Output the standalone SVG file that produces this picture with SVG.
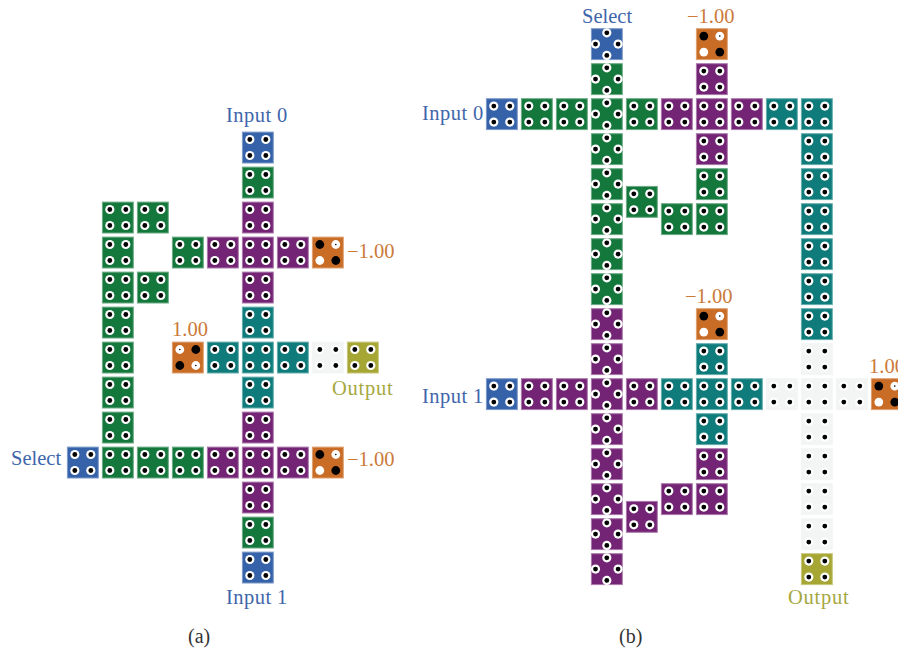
<svg xmlns="http://www.w3.org/2000/svg" width="898" height="654" viewBox="0 0 898 654">
<style>
text{font-family:"Liberation Serif","Times New Roman",serif;font-size:20.5px}
.tb{fill:#3f66ab}.to{fill:#cb7a3a}.tl{fill:#a6a83f;letter-spacing:.75px}.ls{letter-spacing:.45px}.tk{fill:#333;font-size:20px}
.b{fill:#3562a8;stroke:#7d9ac8}.g{fill:#14783c;stroke:#6cab85}.p{fill:#742474;stroke:#ab78ab}.t{fill:#0f7b7b;stroke:#64aeae}.o{fill:#c96c25;stroke:#deA070}.y{fill:#a5a634;stroke:#c6c77a}.w{fill:#f3f5f5;stroke:#f3f5f5}
.h{fill:#fff}.k{fill:#000}
</style>
<defs>
<rect id="r" x=".4" y=".4" width="30.9" height="30.9"/>
<g id="s"><circle class="h" r="4.6"/><circle class="k" r="2.4"/></g>
<g id="q"><use href="#s" x="7.8" y="7.8"/><use href="#s" x="23.8" y="7.8"/><use href="#s" x="7.8" y="23.8"/><use href="#s" x="23.8" y="23.8"/></g>
<g id="d"><use href="#s" x="15.8" y="4.5"/><use href="#s" x="4.5" y="15.8"/><use href="#s" x="27.1" y="15.8"/><use href="#s" x="15.8" y="27.1"/></g>
<g id="m"><circle class="k" cx="7.8" cy="7.8" r="4.4"/><circle class="h" cx="23.8" cy="7.8" r="4.4"/><circle class="k" cx="23.8" cy="7.8" r=".8"/><circle class="h" cx="7.8" cy="23.8" r="4.4"/><circle class="k" cx="23.8" cy="23.8" r="4.4"/></g>
<g id="n"><circle class="h" cx="7.8" cy="7.8" r="4.4"/><circle class="k" cx="7.8" cy="7.8" r=".8"/><circle class="k" cx="23.8" cy="7.8" r="4.4"/><circle class="k" cx="7.8" cy="23.8" r="4.4"/><circle class="h" cx="23.8" cy="23.8" r="4.4"/><circle class="k" cx="23.8" cy="23.8" r=".8"/></g>
</defs>
<g id="panel-a">
<g id="a-input0" transform="translate(242,131.7)"><use href="#r" class="b"/><use href="#q"/></g>
<g id="a1" transform="translate(242,166.7)"><use href="#r" class="g"/><use href="#q"/></g>
<g id="a2" transform="translate(242,201.7)"><use href="#r" class="p"/><use href="#q"/></g>
<g id="a3" transform="translate(242,236.7)"><use href="#r" class="p"/><use href="#q"/></g>
<g id="a4" transform="translate(242,271.7)"><use href="#r" class="p"/><use href="#q"/></g>
<g id="a5" transform="translate(242,306.7)"><use href="#r" class="t"/><use href="#q"/></g>
<g id="a6" transform="translate(242,341.7)"><use href="#r" class="t"/><use href="#q"/></g>
<g id="a7" transform="translate(242,376.7)"><use href="#r" class="t"/><use href="#q"/></g>
<g id="a8" transform="translate(242,411.7)"><use href="#r" class="p"/><use href="#q"/></g>
<g id="a9" transform="translate(242,446.7)"><use href="#r" class="p"/><use href="#q"/></g>
<g id="a10" transform="translate(242,481.7)"><use href="#r" class="p"/><use href="#q"/></g>
<g id="a11" transform="translate(242,516.7)"><use href="#r" class="g"/><use href="#q"/></g>
<g id="a-input1" transform="translate(242,551.7)"><use href="#r" class="b"/><use href="#q"/></g>
<g id="a12" transform="translate(102,201.7)"><use href="#r" class="g"/><use href="#q"/></g>
<g id="a13" transform="translate(102,236.7)"><use href="#r" class="g"/><use href="#q"/></g>
<g id="a14" transform="translate(102,271.7)"><use href="#r" class="g"/><use href="#q"/></g>
<g id="a15" transform="translate(102,306.7)"><use href="#r" class="g"/><use href="#q"/></g>
<g id="a16" transform="translate(102,341.7)"><use href="#r" class="g"/><use href="#q"/></g>
<g id="a17" transform="translate(102,376.7)"><use href="#r" class="g"/><use href="#q"/></g>
<g id="a18" transform="translate(102,411.7)"><use href="#r" class="g"/><use href="#q"/></g>
<g id="a19" transform="translate(102,446.7)"><use href="#r" class="g"/><use href="#q"/></g>
<g id="a20" transform="translate(137,201.7)"><use href="#r" class="g"/><use href="#q"/></g>
<g id="a21" transform="translate(137,271.7)"><use href="#r" class="g"/><use href="#q"/></g>
<g id="a22" transform="translate(137,446.7)"><use href="#r" class="g"/><use href="#q"/></g>
<g id="a-select" transform="translate(67,446.7)"><use href="#r" class="b"/><use href="#q"/></g>
<g id="a23" transform="translate(172,236.7)"><use href="#r" class="g"/><use href="#q"/></g>
<g id="a24" transform="translate(172,446.7)"><use href="#r" class="g"/><use href="#q"/></g>
<g id="a-pos" transform="translate(172,341.7)"><use href="#r" class="o"/><use href="#n"/></g>
<g id="a25" transform="translate(207,236.7)"><use href="#r" class="p"/><use href="#q"/></g>
<g id="a26" transform="translate(207,341.7)"><use href="#r" class="t"/><use href="#q"/></g>
<g id="a27" transform="translate(207,446.7)"><use href="#r" class="p"/><use href="#q"/></g>
<g id="a28" transform="translate(277,236.7)"><use href="#r" class="p"/><use href="#q"/></g>
<g id="a29" transform="translate(277,341.7)"><use href="#r" class="t"/><use href="#q"/></g>
<g id="a30" transform="translate(277,446.7)"><use href="#r" class="p"/><use href="#q"/></g>
<g id="a-neg1" transform="translate(312,236.7)"><use href="#r" class="o"/><use href="#m"/></g>
<g id="a31" transform="translate(312,341.7)"><use href="#r" class="w"/><use href="#q"/></g>
<g id="a-neg2" transform="translate(312,446.7)"><use href="#r" class="o"/><use href="#m"/></g>
<g id="a-output" transform="translate(347,341.7)"><use href="#r" class="y"/><use href="#q"/></g>
<text class="tb ls" x="226" y="122">Input 0</text>
<text class="tb ls" x="226" y="604">Input 1</text>
<text class="tb" x="11" y="465">Select</text>
<text class="to" x="347" y="258">−1.00</text>
<text class="to" x="347" y="466">−1.00</text>
<text class="to" x="172" y="336">1.00</text>
<text class="tl" x="332" y="395">Output</text>
<text class="tk" x="188" y="643">(a)</text>
</g>
<g id="panel-b">
<g id="b-select" transform="translate(591,28.3)"><use href="#r" class="b"/><use href="#d"/></g>
<g id="b1" transform="translate(591,63.3)"><use href="#r" class="g"/><use href="#d"/></g>
<g id="b2" transform="translate(591,98.3)"><use href="#r" class="g"/><use href="#d"/></g>
<g id="b3" transform="translate(591,133.3)"><use href="#r" class="g"/><use href="#d"/></g>
<g id="b4" transform="translate(591,168.3)"><use href="#r" class="g"/><use href="#d"/></g>
<g id="b5" transform="translate(591,203.3)"><use href="#r" class="g"/><use href="#d"/></g>
<g id="b6" transform="translate(591,238.3)"><use href="#r" class="g"/><use href="#d"/></g>
<g id="b7" transform="translate(591,273.3)"><use href="#r" class="g"/><use href="#d"/></g>
<g id="b8" transform="translate(591,308.3)"><use href="#r" class="p"/><use href="#d"/></g>
<g id="b9" transform="translate(591,343.3)"><use href="#r" class="p"/><use href="#d"/></g>
<g id="b10" transform="translate(591,378.3)"><use href="#r" class="p"/><use href="#d"/></g>
<g id="b11" transform="translate(591,413.3)"><use href="#r" class="p"/><use href="#d"/></g>
<g id="b12" transform="translate(591,448.3)"><use href="#r" class="p"/><use href="#d"/></g>
<g id="b13" transform="translate(591,483.3)"><use href="#r" class="p"/><use href="#d"/></g>
<g id="b14" transform="translate(591,518.3)"><use href="#r" class="p"/><use href="#d"/></g>
<g id="b15" transform="translate(591,553.3)"><use href="#r" class="p"/><use href="#d"/></g>
<g id="b-input0" transform="translate(486,98.3)"><use href="#r" class="b"/><use href="#q"/></g>
<g id="b16" transform="translate(521,98.3)"><use href="#r" class="g"/><use href="#q"/></g>
<g id="b17" transform="translate(556,98.3)"><use href="#r" class="g"/><use href="#q"/></g>
<g id="b18" transform="translate(626,98.3)"><use href="#r" class="g"/><use href="#q"/></g>
<g id="b19" transform="translate(661,98.3)"><use href="#r" class="p"/><use href="#q"/></g>
<g id="b20" transform="translate(696,98.3)"><use href="#r" class="p"/><use href="#q"/></g>
<g id="b21" transform="translate(731,98.3)"><use href="#r" class="p"/><use href="#q"/></g>
<g id="b22" transform="translate(766,98.3)"><use href="#r" class="t"/><use href="#q"/></g>
<g id="b23" transform="translate(801,98.3)"><use href="#r" class="t"/><use href="#q"/></g>
<g id="b-neg1" transform="translate(696,28.3)"><use href="#r" class="o"/><use href="#m"/></g>
<g id="b24" transform="translate(696,63.3)"><use href="#r" class="p"/><use href="#q"/></g>
<g id="b25" transform="translate(696,133.3)"><use href="#r" class="p"/><use href="#q"/></g>
<g id="b26" transform="translate(696,168.3)"><use href="#r" class="g"/><use href="#q"/></g>
<g id="b27" transform="translate(696,203.3)"><use href="#r" class="g"/><use href="#q"/></g>
<g id="b28" transform="translate(661,203.3)"><use href="#r" class="g"/><use href="#q"/></g>
<g id="b29" transform="translate(626,186)"><use href="#r" class="g"/><use href="#q"/></g>
<g id="b30" transform="translate(801,133.3)"><use href="#r" class="t"/><use href="#q"/></g>
<g id="b31" transform="translate(801,168.3)"><use href="#r" class="t"/><use href="#q"/></g>
<g id="b32" transform="translate(801,203.3)"><use href="#r" class="t"/><use href="#q"/></g>
<g id="b33" transform="translate(801,238.3)"><use href="#r" class="t"/><use href="#q"/></g>
<g id="b34" transform="translate(801,273.3)"><use href="#r" class="t"/><use href="#q"/></g>
<g id="b35" transform="translate(801,308.3)"><use href="#r" class="t"/><use href="#q"/></g>
<g id="b36" transform="translate(801,343.3)"><use href="#r" class="w"/><use href="#q"/></g>
<g id="b37" transform="translate(801,378.3)"><use href="#r" class="w"/><use href="#q"/></g>
<g id="b38" transform="translate(801,413.3)"><use href="#r" class="w"/><use href="#q"/></g>
<g id="b39" transform="translate(801,448.3)"><use href="#r" class="w"/><use href="#q"/></g>
<g id="b40" transform="translate(801,483.3)"><use href="#r" class="w"/><use href="#q"/></g>
<g id="b41" transform="translate(801,518.3)"><use href="#r" class="w"/><use href="#q"/></g>
<g id="b-output" transform="translate(801,553.3)"><use href="#r" class="y"/><use href="#q"/></g>
<g id="b-input1" transform="translate(486,378.3)"><use href="#r" class="b"/><use href="#q"/></g>
<g id="b42" transform="translate(521,378.3)"><use href="#r" class="p"/><use href="#q"/></g>
<g id="b43" transform="translate(556,378.3)"><use href="#r" class="p"/><use href="#q"/></g>
<g id="b44" transform="translate(626,378.3)"><use href="#r" class="p"/><use href="#q"/></g>
<g id="b45" transform="translate(661,378.3)"><use href="#r" class="t"/><use href="#q"/></g>
<g id="b46" transform="translate(696,378.3)"><use href="#r" class="t"/><use href="#q"/></g>
<g id="b47" transform="translate(731,378.3)"><use href="#r" class="t"/><use href="#q"/></g>
<g id="b48" transform="translate(766,378.3)"><use href="#r" class="w"/><use href="#q"/></g>
<g id="b49" transform="translate(836,378.3)"><use href="#r" class="w"/><use href="#q"/></g>
<g id="b-pos" transform="translate(871,378.3)"><use href="#r" class="o"/><use href="#m"/></g>
<g id="b-neg2" transform="translate(696,308.3)"><use href="#r" class="o"/><use href="#m"/></g>
<g id="b50" transform="translate(696,343.3)"><use href="#r" class="t"/><use href="#q"/></g>
<g id="b51" transform="translate(696,413.3)"><use href="#r" class="t"/><use href="#q"/></g>
<g id="b52" transform="translate(696,448.3)"><use href="#r" class="p"/><use href="#q"/></g>
<g id="b53" transform="translate(696,483.3)"><use href="#r" class="p"/><use href="#q"/></g>
<g id="b54" transform="translate(661,483.3)"><use href="#r" class="p"/><use href="#q"/></g>
<g id="b55" transform="translate(626,501)"><use href="#r" class="p"/><use href="#q"/></g>
<text class="tb" x="582" y="23">Select</text>
<text class="to" x="687" y="23">−1.00</text>
<text class="tb ls" x="422" y="120">Input 0</text>
<text class="to" x="685" y="303">−1.00</text>
<text class="tb ls" x="422" y="403">Input 1</text>
<text class="to" x="869" y="373">1.00</text>
<text class="tl" x="788" y="604">Output</text>
<text class="tk" x="619" y="643">(b)</text>
</g>
</svg>
